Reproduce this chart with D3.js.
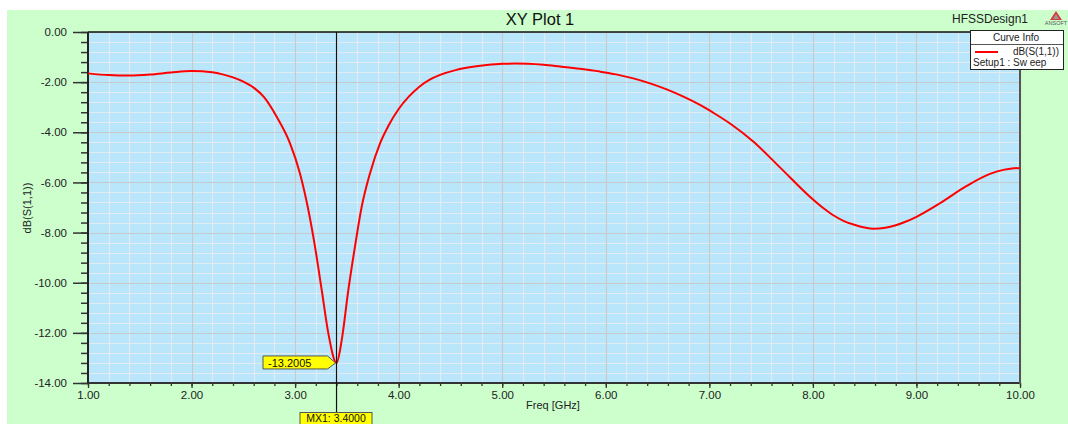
<!DOCTYPE html>
<html>
<head>
<meta charset="utf-8">
<script src="https://cdn.jsdelivr.net/npm/d3@7"></script>
<style>
  html, body { margin: 0; padding: 0; background: #ffffff; }
  svg { display: block; font-family: "Liberation Sans", Arial, sans-serif; }
</style>
</head>
<body>
<svg id="chart" width="1068" height="424"></svg>
<script>
// ---- data ----
const freqGHz = [1.0, 1.2, 1.4, 1.6, 1.8, 2.0, 2.2, 2.3, 2.4, 2.5, 2.6, 2.7, 2.822, 2.951, 3.047, 3.128, 3.192, 3.257, 3.321, 3.4,
                 3.45, 3.514, 3.578, 3.643, 3.723, 3.82, 3.9, 4.0, 4.1, 4.2, 4.3, 4.4, 4.55, 4.7, 4.85, 5.0, 5.12, 5.25, 5.4, 5.558,
                 5.75, 5.944, 6.1, 6.266, 6.42, 6.588, 6.75, 6.91, 7.05, 7.2, 7.424, 7.682, 7.971, 8.1, 8.197, 8.3, 8.423, 8.5, 8.583,
                 8.7, 8.8, 8.9, 9.0, 9.227, 9.485, 9.71, 9.85, 10.0];
const s11dB   = [-1.65, -1.72, -1.74, -1.70, -1.62, -1.56, -1.61, -1.69, -1.81, -1.98, -2.22, -2.6, -3.38, -4.44, -5.64, -7.10, -8.56, -10.29, -12.02, -13.2005,
                 -12.29, -10.29, -8.56, -6.97, -5.64, -4.44, -3.75, -3.07, -2.57, -2.18, -1.90, -1.71, -1.52, -1.40, -1.32, -1.27, -1.26, -1.27, -1.31, -1.38,
                 -1.47, -1.58, -1.69, -1.85, -2.04, -2.29, -2.58, -2.91, -3.25, -3.65, -4.37, -5.40, -6.57, -7.02, -7.31, -7.54, -7.72, -7.80, -7.85,
                 -7.81, -7.71, -7.56, -7.37, -6.83, -6.14, -5.66, -5.49, -5.42];
const xTicks = [1, 2, 3, 4, 5, 6, 7, 8, 9, 10];
const yTicks = [0, -2, -4, -6, -8, -10, -12, -14];
const markerFreq = 3.4;
const markerValue = -13.2005;

const fmt2 = d => d.toFixed(2);
const fmt4 = d => d.toFixed(4);

const svg = d3.select("#chart");
const L = 88, R = 1020, T = 32, B = 383;
const x = d3.scaleLinear().domain([1, 10]).range([L, R]);
const y = d3.scaleLinear().domain([-14, 0]).range([B, T]);

// backgrounds
svg.append("rect").attr("x", 7).attr("y", 10).attr("width", 1061).attr("height", 414).attr("fill", "#ccffcc");
svg.append("rect").attr("x", L).attr("y", T).attr("width", R - L).attr("height", B - T).attr("fill", "#b9e6fb");

// grid
const minorX = d3.range(1, 10.001, 0.2);
const minorY = d3.range(-14, 0.001, 0.4);
const grid = svg.append("g");
grid.selectAll(".mx").data(minorX).enter().append("line")
  .attr("x1", d => Math.round(x(d)) + 0.5).attr("x2", d => Math.round(x(d)) + 0.5)
  .attr("y1", T).attr("y2", B).attr("stroke", "#e2ecf0").attr("stroke-width", 1.2);
grid.selectAll(".my").data(minorY).enter().append("line")
  .attr("y1", d => Math.round(y(d)) + 0.5).attr("y2", d => Math.round(y(d)) + 0.5)
  .attr("x1", L).attr("x2", R).attr("stroke", "#e2ecf0").attr("stroke-width", 1.2);
grid.selectAll(".Mx").data(xTicks).enter().append("line")
  .attr("x1", d => Math.round(x(d)) + 0.5).attr("x2", d => Math.round(x(d)) + 0.5)
  .attr("y1", T).attr("y2", B).attr("stroke", "#c6cacc").attr("stroke-width", 1.2);
grid.selectAll(".My").data(yTicks).enter().append("line")
  .attr("y1", d => Math.round(y(d)) + 0.5).attr("y2", d => Math.round(y(d)) + 0.5)
  .attr("x1", L).attr("x2", R).attr("stroke", "#c6cacc").attr("stroke-width", 1.2);

// Y axis
const yAxisMinor = d3.axisLeft(y).tickValues(minorY).tickSize(7).tickFormat("");
svg.append("g").attr("transform", `translate(${L},0)`).call(yAxisMinor)
  .call(g => { g.select(".domain").remove(); g.selectAll("line").attr("stroke", "#333").attr("stroke-width", 1.5); });
const yAxis = d3.axisLeft(y).tickValues(yTicks).tickSize(15).tickPadding(6).tickFormat(fmt2);
svg.append("g").attr("transform", `translate(${L},0)`).call(yAxis)
  .call(g => {
    g.select(".domain").remove();
    g.selectAll("line").attr("stroke", "#333").attr("stroke-width", 1.5);
    g.selectAll("text").attr("font-size", 11.5).attr("fill", "#222").attr("font-family", "Liberation Sans, Arial, sans-serif");
  });

// X axis
const xAxisMinor = d3.axisBottom(x).tickValues(minorX).tickSize(3).tickFormat("");
svg.append("g").attr("transform", `translate(0,${B})`).call(xAxisMinor)
  .call(g => { g.select(".domain").remove(); g.selectAll("line").attr("stroke", "#333").attr("stroke-width", 1.3); });
const xAxis = d3.axisBottom(x).tickValues(xTicks).tickSize(5).tickPadding(3).tickFormat(fmt2);
svg.append("g").attr("transform", `translate(0,${B})`).call(xAxis)
  .call(g => {
    g.select(".domain").remove();
    g.selectAll("line").attr("stroke", "#333").attr("stroke-width", 1.3);
    g.selectAll("text").attr("font-size", 11.5).attr("fill", "#222").attr("font-family", "Liberation Sans, Arial, sans-serif");
  });

// frame
svg.append("line").attr("x1", L).attr("x2", R).attr("y1", T).attr("y2", T).attr("stroke", "#111").attr("stroke-width", 1.5);
svg.append("line").attr("x1", L).attr("x2", R).attr("y1", B).attr("y2", B).attr("stroke", "#333").attr("stroke-width", 2);
svg.append("line").attr("x1", L).attr("x2", L).attr("y1", T).attr("y2", B).attr("stroke", "#222").attr("stroke-width", 2);
svg.append("line").attr("x1", R).attr("x2", R).attr("y1", T).attr("y2", B + 1).attr("stroke", "#555").attr("stroke-width", 2);

// curve
const pts = freqGHz.map((f, i) => [f, s11dB[i]]);
const line = d3.line().x(d => x(d[0])).y(d => y(d[1])).curve(d3.curveMonotoneX);
svg.append("path").datum(pts).attr("d", line).attr("fill", "none").attr("stroke", "#ff0000").attr("stroke-width", 2);

// marker
const mx = x(markerFreq), my = y(markerValue);
svg.append("line").attr("x1", mx).attr("x2", mx).attr("y1", T).attr("y2", 416).attr("stroke", "#111").attr("stroke-width", 1.2);
// value label (arrow box)
const bx0 = 263, by0 = my - 7, by1 = my + 6, tipX = mx - 1;
svg.append("path")
  .attr("d", `M${bx0},${by0} L${tipX - 8},${by0} L${tipX},${my} L${tipX - 8},${by1} L${bx0},${by1} Z`)
  .attr("fill", "#ffff00").attr("stroke", "#555").attr("stroke-width", 1);
svg.append("text").attr("x", 268).attr("y", my + 4).attr("font-size", 11).attr("fill", "#111").text(fmt4(markerValue));
// bottom marker label
svg.append("rect").attr("x", 300).attr("y", 412.5).attr("width", 72).attr("height", 14)
  .attr("fill", "#ffff00").attr("stroke", "#555").attr("stroke-width", 1);
svg.append("text").attr("x", 336).attr("y", 422).attr("text-anchor", "middle").attr("font-size", 10.5).attr("fill", "#111")
  .text("MX1: " + fmt4(markerFreq));

// titles
svg.append("text").attr("x", 540).attr("y", 25).attr("text-anchor", "middle").attr("font-size", 16.5).attr("fill", "#111").text("XY Plot 1");
svg.append("text").attr("x", 952).attr("y", 23).attr("font-size", 12).attr("fill", "#222").text("HFSSDesign1");
svg.append("text").attr("x", 553).attr("y", 409).attr("text-anchor", "middle").attr("font-size", 11).attr("fill", "#222").text("Freq [GHz]");
svg.append("text").attr("transform", "translate(31,208) rotate(-90)").attr("text-anchor", "middle")
  .attr("font-size", 11).attr("fill", "#222").text("dB(S(1,1))");

// ANSOFT logo
const logo = svg.append("g");
logo.append("path").attr("d", "M1056,11 L1062,20 L1050,20 Z").attr("fill", "#d83a3a");
logo.append("path").attr("d", "M1056,14 L1059,19 L1053,19 Z").attr("fill", "#999");
logo.append("text").attr("x", 1056).attr("y", 25).attr("text-anchor", "middle").attr("font-size", 5.5).attr("fill", "#555").text("ANSOFT");

// legend
const lg = svg.append("g");
lg.append("rect").attr("x", 970.5).attr("y", 30.5).attr("width", 93).attr("height", 39).attr("fill", "#ffffff").attr("stroke", "#222").attr("stroke-width", 1);
lg.append("line").attr("x1", 971).attr("x2", 1063).attr("y1", 44.5).attr("y2", 44.5).attr("stroke", "#555").attr("stroke-width", 1);
lg.append("text").attr("x", 1016).attr("y", 41).attr("text-anchor", "middle").attr("font-size", 10).attr("fill", "#222").text("Curve Info");
lg.append("line").attr("x1", 975).attr("x2", 998).attr("y1", 52).attr("y2", 52).attr("stroke", "#ff0000").attr("stroke-width", 2);
lg.append("text").attr("x", 1059).attr("y", 55).attr("text-anchor", "end").attr("font-size", 10).attr("fill", "#222").text("dB(S(1,1))");
lg.append("text").attr("x", 973).attr("y", 66).attr("font-size", 10).attr("fill", "#222").text("Setup1 : Sw eep");
</script>
</body>
</html>
